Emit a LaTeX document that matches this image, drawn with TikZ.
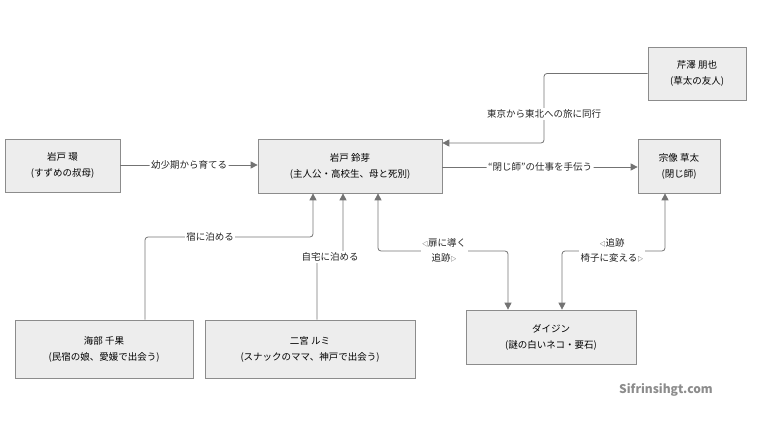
\documentclass[tikz,border=0pt]{standalone}
\usepackage{fontspec}
\setmainfont{Noto Sans CJK JP}
\usetikzlibrary{arrows.meta}
\newcommand{\tri}[1]{{\fontsize{6}{6}\selectfont #1}}
\begin{document}
\begin{tikzpicture}[x=1pt,y=-1pt,
  box/.style={draw=black!45,fill=black!7,line width=0.7pt,inner sep=0pt,align=center,font=\fontsize{9.5}{16}\selectfont},
  con/.style={draw=black!55,line width=0.8pt,rounded corners=3pt,-{Triangle[length=7pt,width=7pt]}},
  lab/.style={fill=white,inner sep=1.5pt,font=\fontsize{9.5}{15}\selectfont,align=center,text=black!85}]
\useasboundingbox (0,0) rectangle (760,428);
\node[box,minimum width=98,minimum height=53] (seri) at (697,73.5) {芹澤 朋也\\(草太の友人)};
\node[box,minimum width=115,minimum height=53] (tama) at (62.5,165.5) {岩戸 環\\(すずめの叔母)};
\node[box,minimum width=184,minimum height=54] (suzu) at (350,166) {岩戸 鈴芽\\(主人公・高校生、母と死別)};
\node[box,minimum width=82,minimum height=54] (sota) at (679,166) {宗像 草太\\(閉じ師)};
\node[box,minimum width=178,minimum height=58] (chika) at (104,349) {海部 千果\\(民宿の娘、愛媛で出会う)};
\node[box,minimum width=210,minimum height=58] (rumi) at (310,349) {二宮 ルミ\\(スナックのママ、神戸で出会う)};
\node[box,minimum width=170,minimum height=54] (dai) at (551,337) {ダイジン\\(謎の白いネコ・要石)};

\draw[con] (seri.west) -| (544,143) -- (suzu.east |- 0,143);
\node[lab] at (544,114) {東京から東北への旅に同行};
\draw[con] (tama.east |- 0,165) -- node[lab]{幼少期から育てる} (suzu.west |- 0,165);
\draw[con] (suzu.east |- 0,167) -- node[lab]{“閉じ師”の仕事を手伝う} (sota.west |- 0,167);
\draw[con] (chika.north -| 145,0) |- (313,237) -- (suzu.south -| 313,0);
\node[lab] at (210,237) {宿に泊める};
\draw[con] (rumi.north -| 317,0) |- (343,257) -- (suzu.south -| 343,0);
\node[lab] at (330,257) {自宅に泊める};
\draw[con,{Triangle[length=7pt,width=7pt]}-{Triangle[length=7pt,width=7pt]}] (suzu.south -| 378,0) |- (508,251) -- (dai.north -| 508,0);
\node[lab] at (444,250) {\tri{◁}扉に導く\\追跡\tri{▷}};
\draw[con,{Triangle[length=7pt,width=7pt]}-{Triangle[length=7pt,width=7pt]}] (sota.south -| 665,0) |- (562,251) -- (dai.north -| 562,0);
\node[lab] at (612,250) {\tri{◁}追跡\\椅子に変える\tri{▷}};
\node[text=black!45,font=\fontsize{12}{13}\selectfont\itshape\bfseries] (wm) at (666,390) {Sifrinsihgt.com};
\end{tikzpicture}
\end{document}
